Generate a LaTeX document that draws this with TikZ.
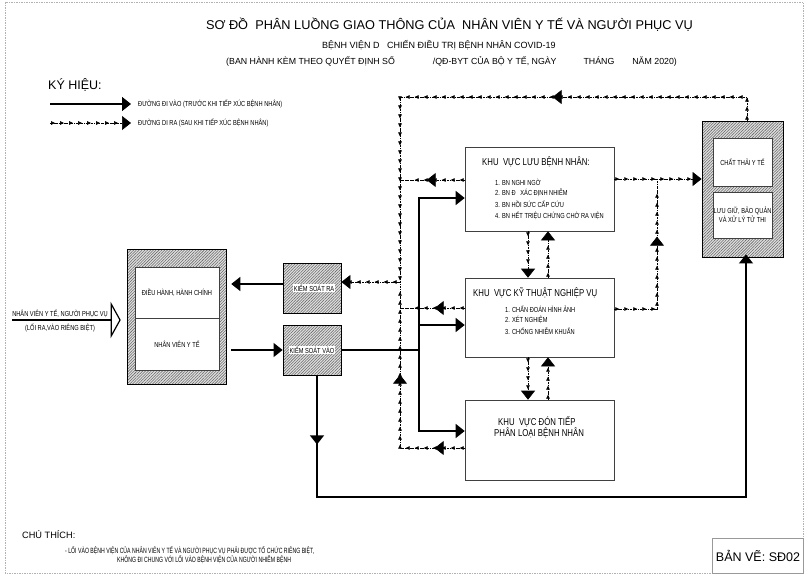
\documentclass[tikz,border=0pt]{standalone}
\usepackage{fontspec}
\setmainfont{Liberation Sans}
\newfontfamily\nar{Liberation Sans}[FakeStretch=0.78]
\newfontfamily\narr{Liberation Sans}[FakeStretch=0.68]
\usetikzlibrary{arrows.meta,decorations.markings,patterns.meta}
\tikzset{
  bighead/.tip={Triangle[length=9pt,width=14pt]},
  smallhead/.tip={Triangle[length=4pt,width=3.6pt]},
  inflow/.style={line width=1.3pt},
  outflow/.style={line width=0.6pt, dash pattern=on 2.5pt off 1pt on 0.6pt off 1pt,
     postaction={decorate,decoration={markings,mark=between positions 5pt and -6pt step 9pt with {\arrow{smallhead}}}}},
  bigmark/.style={postaction={decorate,decoration={markings,mark=at position #1 with {\arrow{bighead}}}}},
  hatched/.style={draw=black,line width=0.8pt,preaction={fill=gray!25},pattern={Lines[angle=45,distance=2pt,line width=0.55pt]},pattern color=black!60},
  wbox/.style={draw=black!75,line width=0.6pt,fill=white,inner sep=0pt},
  sm/.style={font=\nar\fontsize{7.3}{9}\selectfont,inner sep=0pt},
  smn/.style={font=\narr\fontsize{7.6}{9}\selectfont,inner sep=0pt},
  hd/.style={font=\nar\fontsize{10}{12}\selectfont,inner sep=0pt},
}
\begin{document}
\begin{tikzpicture}[x=1pt,y=-1pt]
\useasboundingbox (0,0) rectangle (808,576);
% page frame
\draw[gray!60,line width=0.8pt,dash pattern=on 1.5pt off 1pt] (5,2) rectangle (803,573);
% titles
\node[inner sep=0pt,font=\fontsize{12.75}{15}\selectfont] (t1) at (449.5,25) {SƠ ĐỒ\ \ PHÂN LUỒNG GIAO THÔNG CỦA\ \ NHÂN VIÊN Y TẾ VÀ NGƯỜI PHỤC VỤ};
\node[inner sep=0pt,font=\fontsize{9}{11}\selectfont] (t2) at (439,45) {BỆNH VIỆN D\ \ \ CHIẾN ĐIỀU TRỊ BỆNH NHÂN COVID-19};
\node[inner sep=0pt,anchor=west,font=\fontsize{8.8}{11}\selectfont] (t3) at (226,61) {(BAN HÀNH KÈM THEO QUYẾT ĐỊNH SỐ\hspace{38pt}/QĐ-BYT CỦA BỘ Y TẾ, NGÀY\hspace{27pt}THÁNG\hspace{18pt}NĂM 2020)};
% legend
\node[inner sep=0pt,anchor=west,font=\fontsize{12.5}{14}\selectfont] (lgT) at (48,85) {KÝ HIỆU:};
\coordinate (lg1a) at (50,104); \coordinate (lg1b) at (131,104);
\coordinate (lg2a) at (50,123); \coordinate (lg2b) at (131,123);
\draw[inflow,-{bighead}] (lg1a) -- (lg1b);
\draw[outflow,-{bighead}] (lg2a) -- (lg2b);
\node[sm,anchor=west] (lg1t) at (138,104) {ĐƯỜNG ĐI VÀO (TRƯỚC KHI TIẾP XÚC BỆNH NHÂN)};
\node[sm,anchor=west] (lg2t) at (138,123) {ĐƯỜNG DI RA (SAU KHI TIẾP XÚC BỆNH NHÂN)};
% left block
\node[hatched,minimum width=99pt,minimum height=135pt] (L) at (176.5,316.5) {};
\node[wbox,sm,minimum width=84pt,minimum height=51pt] (Ldh) at (177,292.5) {ĐIỀU HÀNH, HÀNH CHÍNH};
\node[wbox,sm,minimum width=84pt,minimum height=52pt] (Lnv) at (177,344) {NHÂN VIÊN Y TẾ};
% control boxes
\node[hatched,minimum width=58pt,minimum height=50pt] (KSR) at (312,288) {};
\node[sm,fill=white,inner sep=1pt] (KSRt) at (314,288) {KIỂM SOÁT RA};
\node[hatched,minimum width=58pt,minimum height=50pt] (KSV) at (312,350) {};
\node[sm,fill=white,inner sep=1pt] (KSVt) at (312,350) {KIỂM SOÁT VÀO};
% areas
\node[wbox,minimum width=149pt,minimum height=84pt] (LUU) at (539.5,189) {};
\node[hd,anchor=west] (luuT) at (482,162) {KHU\ \ VỰC LƯU BỆNH NHÂN:};
\node[sm,anchor=west] (luu1) at (495,182) {1. BN NGHI NGỜ};
\node[sm,anchor=west] (luu2) at (495,193) {2. BN Đ\ \ \ XÁC ĐỊNH NHIỄM};
\node[sm,anchor=west] (luu3) at (495,204.5) {3. BN HỒI SỨC CẤP CỨU};
\node[sm,anchor=west] (luu4) at (495,216) {4. BN HẾT TRIỆU CHỨNG CHỜ RA VIỆN};
\node[wbox,minimum width=149pt,minimum height=79pt] (KT) at (539.5,317.5) {};
\node[hd,anchor=west] (ktT) at (473,293) {KHU\ \ VỰC KỸ THUẬT NGHIỆP VỤ};
\node[sm,anchor=west] (kt1) at (505,309) {1. CHẨN ĐOÁN HÌNH ẢNH};
\node[sm,anchor=west] (kt2) at (505,320) {2. XÉT NGHIỆM};
\node[sm,anchor=west] (kt3) at (505,331) {3. CHỐNG NHIỄM KHUẨN};
\node[wbox,minimum width=149pt,minimum height=80pt] (DT) at (539.5,440) {};
\node[hd,anchor=west] (dt1) at (498,422) {KHU\ \ VỰC ĐÓN TIẾP};
\node[hd,anchor=west] (dt2) at (494,433) {PHÂN LOẠI BỆNH NHÂN};
% right block
\node[hatched,minimum width=81pt,minimum height=136pt] (R) at (742.5,189) {};
\node[wbox,sm,minimum width=59pt,minimum height=48pt] (Rct) at (742.5,162) {CHẤT THẢI Y TẾ};
\node[wbox,sm,minimum width=59pt,minimum height=46pt,align=center] (Rlg) at (742.5,215) {LƯU GIỮ, BẢO QUẢN\\VÀ XỬ LÝ TỬ THI};
% entry arrow
\coordinate (entry) at (12,320);
\draw[line width=2pt,-{Triangle[open,length=10pt,width=36pt,line width=1.2pt]},shorten >=6pt] (entry) -- (L.west |- entry);
\node[sm] (en1) at (60,314) {NHÂN VIÊN Y TẾ, NGƯỜI PHỤC VỤ};
\node[sm] (en2) at (60,328) {(LỐI RA,VÀO RIÊNG BIỆT)};
% coordinates
\coordinate (tr) at (747,97);
\coordinate (tl) at (400,97);
\coordinate (jR) at (400,282);
\coordinate (jL) at (400,180);
\coordinate (jK) at (400,308);
\coordinate (jD) at (400,448);
\coordinate (jE) at (657,179);
\coordinate (jF) at (657,309);
\coordinate (jV) at (419,350);
\coordinate (sA) at (317,497);
\coordinate (sB) at (746,497);
\coordinate (xa) at (528,0);
\coordinate (xb) at (548,0);
\coordinate (yKR) at (0,284);
\coordinate (y198) at (0,198);
\coordinate (y325) at (0,325);
\coordinate (y431) at (0,431);
% outgoing (dashed) flows
\draw[outflow,-{bighead},bigmark=218pt] (R.north -| tr) -- (tr) -- (tl) -- (jR) -- (KSR.east |- jR);
\draw[outflow,bigmark=38pt] (LUU.west |- jL) -- (jL);
\draw[outflow,bigmark=30pt] (KT.west |- jK) -- (jK);
\draw[outflow,bigmark=30pt,bigmark=138pt] (DT.west |- jD) -- (jD) -- (jR);
\draw[outflow,-{bighead}] (LUU.east |- jE) -- (R.west |- jE);
\draw[outflow,bigmark=115pt] (KT.east |- jF) -- (jF) -- (jE);
\draw[outflow,-{bighead}] (LUU.south -| xa) -- (KT.north -| xa);
\draw[outflow,-{bighead}] (KT.north -| xb) -- (LUU.south -| xb);
\draw[outflow,-{bighead}] (KT.south -| xa) -- (DT.north -| xa);
\draw[outflow,-{bighead}] (DT.north -| xb) -- (KT.south -| xb);
% incoming (solid) flows
\draw[inflow,-{bighead},shorten <=5pt] (KSV.west -| L.east) -- (KSV.west);
\draw[inflow,-{bighead},shorten >=5pt] (KSR.west |- yKR) -- (L.east |- yKR);
\draw[inflow] (KSV.east) -- (jV);
\draw[inflow,-{bighead}] (jV) |- (LUU.west |- y198);
\draw[inflow,-{bighead}] (jV) |- (KT.west |- y325);
\draw[inflow,-{bighead}] (jV) |- (DT.west |- y431);
\draw[inflow,-{bighead},bigmark=69pt,shorten >=-3pt] (KSV.south -| sA) -- (sA) -- (sB) -- (R.south -| sB);
% notes
\node[inner sep=0pt,anchor=west,font=\fontsize{9.2}{11}\selectfont] (note) at (22,535) {CHÚ THÍCH:};
\node[smn,anchor=west] (n1) at (65,551) {- LỐI VÀO BỆNH VIỆN CỦA NHÂN VIÊN Y TẾ VÀ NGƯỜI PHỤC VỤ PHẢI ĐƯỢC TỔ CHỨC RIÊNG BIỆT,};
\node[smn,anchor=west] (n2) at (117,560) {KHÔNG ĐI CHUNG VỚI LỐI VÀO BỆNH VIỆN CỦA NGƯỜI NHIỄM BỆNH};
\node[draw=gray!80,line width=0.8pt,minimum width=90pt,minimum height=35pt,font=\fontsize{12.5}{14}\selectfont] (bv) at (758,555.5) {BẢN VẼ: SĐ02};
\end{tikzpicture}
\end{document}
